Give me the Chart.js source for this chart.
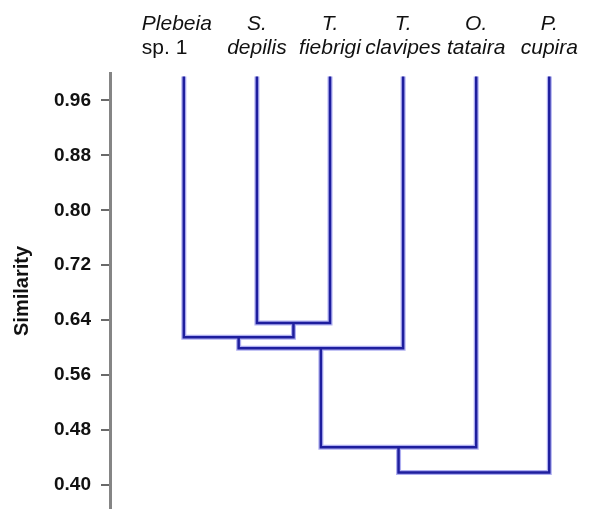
<!DOCTYPE html>
<html>
<head>
<meta charset="utf-8">
<script src="https://cdn.jsdelivr.net/npm/chart.js@4.4.0/dist/chart.umd.min.js"></script>
<style>
  body { margin: 0; background: #fff; }
  #wrap { width: 589px; height: 509px; position: relative; }
</style>
</head>
<body>
<div id="wrap"><canvas id="dendro"></canvas></div>
<script>
// leaves, left to right
var leafTop = ['Plebeia', 'S.', 'T.', 'T.', 'O.', 'P.'];
var leafBottom = ['sp. 1', 'depilis', 'fiebrigi', 'clavipes', 'tataira', 'cupira'];
var leafHeight = 0.995;

// merges: [left node, right node, similarity]; nodes 0-5 are leaves, 6+ are earlier merges
var mergeLeft = [1, 0, 7, 8, 9];
var mergeRight = [2, 6, 3, 4, 5];
var mergeHeight = [0.636, 0.615, 0.599, 0.455, 0.418];

var yTicks = [0.40, 0.48, 0.56, 0.64, 0.72, 0.80, 0.88, 0.96];

// build the U shapes
var nodeX = [], nodeY = [];
for (var i = 0; i < leafTop.length; i++) { nodeX.push(i); nodeY.push(leafHeight); }
var segs = [];
for (var m = 0; m < mergeHeight.length; m++) {
  var a = mergeLeft[m], b = mergeRight[m], h = mergeHeight[m];
  segs.push({x: nodeX[a], y: nodeY[a]});
  segs.push({x: nodeX[a], y: h});
  segs.push({x: nodeX[b], y: h});
  segs.push({x: nodeX[b], y: nodeY[b]});
  segs.push({x: nodeX[b], y: null});
  nodeX.push((nodeX[a] + nodeX[b]) / 2);
  nodeY.push(h);
}

var leafLabels = {
  id: 'leafLabels',
  afterDraw: function(chart) {
    var ctx = chart.ctx;
    var xs = chart.scales.x;
    ctx.save();
    ctx.fillStyle = '#111';
    ctx.textBaseline = 'alphabetic';
    for (var i = 0; i < leafTop.length; i++) {
      var px = xs.getPixelForValue(i);
      if (i === 0) {
        ctx.textAlign = 'left';
        px = px - 42;
      } else {
        ctx.textAlign = 'center';
      }
      ctx.font = 'italic 21px "Liberation Sans", Arial, sans-serif';
      ctx.fillText(leafTop[i], px, 30);
      ctx.font = (i === 0 ? '' : 'italic ') + '21px "Liberation Sans", Arial, sans-serif';
      ctx.fillText(leafBottom[i], px, 54);
    }
    ctx.restore();
  }
};

var dendro = document.getElementById('dendro').getContext('2d');
new Chart(dendro, {
  type: 'line',
  data: {
    datasets: [{
      data: segs,
      borderColor: '#1e1e9e',
      borderWidth: 2.5,
      pointRadius: 0,
      tension: 0,
      spanGaps: false
    }, {
      data: segs,
      borderColor: 'rgba(110,110,230,0.55)',
      borderWidth: 5,
      pointRadius: 0,
      tension: 0,
      spanGaps: false
    }]
  },
  options: {
    responsive: true,
    maintainAspectRatio: false,
    animation: false,
    layout: { padding: { top: 73, right: 9, bottom: 0, left: 0 } },
    plugins: {
      legend: { display: false },
      tooltip: { enabled: false }
    },
    scales: {
      x: {
        type: 'linear',
        display: false,
        min: -1.01,
        max: 5.42
      },
      y: {
        min: 0.365,
        max: 1.0,
        afterFit: function(scale) {
          scale.width = 110;
          scale.paddingTop = 0;
          scale.paddingBottom = 0;
        },
        afterBuildTicks: function(scale) {
          scale.ticks = yTicks.map(function(v) { return {value: v}; });
        },
        border: { color: '#858585', width: 3 },
        grid: { drawOnChartArea: false, tickLength: 9, color: '#6a6a6a', lineWidth: 2 },
        ticks: {
          color: '#111',
          padding: 10,
          font: { family: '"Liberation Sans", Arial, sans-serif', size: 19, weight: 'bold' },
          callback: function(v) { return v.toFixed(2); }
        },
        title: {
          display: true,
          text: 'Similarity',
          color: '#111',
          padding: { top: 10, bottom: 0 },
          font: { family: '"Liberation Sans", Arial, sans-serif', size: 20, weight: 'bold' }
        }
      }
    }
  },
  plugins: [leafLabels]
});
</script>
</body>
</html>
